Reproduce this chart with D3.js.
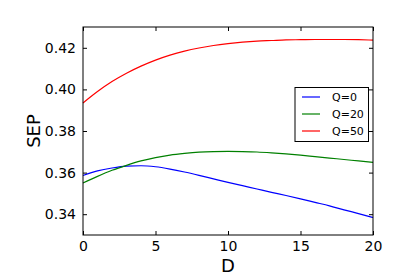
<!DOCTYPE html>
<html>
<head>
<meta charset="utf-8">
<script src="https://cdn.jsdelivr.net/npm/d3@7"></script>
<style>
  body { margin: 0; background: #fff; }
  svg text { font-family: "DejaVu Sans", sans-serif; fill: #000; }
</style>
</head>
<body>
<script>
var dValues = [0, 1, 2, 3, 4, 5, 6, 7, 8, 9, 10, 11, 12, 13, 14, 15, 16, 17, 18, 19, 20];

var sepQ0 = [0.3586, 0.3608, 0.3622, 0.3631, 0.3633, 0.3628, 0.3617, 0.3603, 0.3587, 0.3570,
  0.3553, 0.3537, 0.3521, 0.3505, 0.3490, 0.3474, 0.3457, 0.3440, 0.3421, 0.3403, 0.3384];
var sepQ20 = [0.3550, 0.3582, 0.3611, 0.3635, 0.3656, 0.3672, 0.3684, 0.3692, 0.3698, 0.3701,
  0.3702, 0.3701, 0.3699, 0.3695, 0.3690, 0.3684, 0.3677, 0.3670, 0.3663, 0.3656, 0.3649];
var sepQ50 = [0.3935, 0.3990, 0.4038, 0.4078, 0.4112, 0.4141, 0.4165, 0.4184, 0.4199, 0.4211,
  0.4220, 0.4227, 0.4232, 0.4235, 0.4238, 0.4239, 0.4240, 0.4240, 0.4240, 0.4239, 0.4237];

var seriesNames = ['Q=0', 'Q=20', 'Q=50'];
var seriesColors = ['#0000ff', '#008000', '#ff0000'];

var xTicks = [0, 5, 10, 15, 20];
var yTicks = [0.34, 0.36, 0.38, 0.40, 0.42];

var width = 415, height = 277;
var margin = { top: 27, right: 42, bottom: 42, left: 83 };

var svg = d3.select('body').append('svg')
    .attr('width', width)
    .attr('height', height);

var x = d3.scaleLinear().domain([0, 20]).range([margin.left, width - margin.right]);
var y = d3.scaleLinear().domain([0.33, 0.43]).range([height - margin.bottom, margin.top]);

var series = [sepQ0, sepQ20, sepQ50].map(function(vals, i) {
  return {
    name: seriesNames[i],
    color: seriesColors[i],
    points: vals.map(function(v, j) { return [dValues[j], v]; })
  };
});

var line = d3.line()
    .x(function(d) { return x(d[0]); })
    .y(function(d) { return y(d[1]); })
    .curve(d3.curveMonotoneX);

svg.append('g').selectAll('path')
    .data(series)
    .enter()
    .append('path')
    .attr('d', function(d) { return line(d.points); })
    .attr('fill', 'none')
    .attr('stroke', function(d) { return d.color; })
    .attr('stroke-width', 1.2);

// axes: ticks point inward, on all four sides
var tickLen = 4;
var fmt = d3.format('.2f');

svg.append('g')
    .attr('transform', 'translate(0,' + (height - margin.bottom) + ')')
    .call(d3.axisBottom(x).tickValues(xTicks).tickSizeInner(-tickLen).tickSizeOuter(0).tickPadding(6))
    .call(function(g) { g.select('.domain').remove(); })
    .selectAll('text').attr('font-size', 14).attr('dy', '0.71em');

svg.append('g')
    .attr('transform', 'translate(0,' + margin.top + ')')
    .call(d3.axisTop(x).tickValues(xTicks).tickSizeInner(-tickLen).tickSizeOuter(0).tickFormat(''))
    .call(function(g) { g.select('.domain').remove(); });

svg.append('g')
    .attr('transform', 'translate(' + margin.left + ',0)')
    .call(d3.axisLeft(y).tickValues(yTicks).tickFormat(fmt).tickSizeInner(-tickLen).tickSizeOuter(0).tickPadding(7))
    .call(function(g) { g.select('.domain').remove(); })
    .selectAll('text').attr('font-size', 14);

svg.append('g')
    .attr('transform', 'translate(' + (width - margin.right) + ',0)')
    .call(d3.axisRight(y).tickValues(yTicks).tickSizeInner(-tickLen).tickSizeOuter(0).tickFormat(''))
    .call(function(g) { g.select('.domain').remove(); });

svg.selectAll('.tick line').attr('stroke', '#000');
svg.selectAll('g').attr('font-family', null);

// frame
svg.append('rect')
    .attr('x', x(0))
    .attr('y', y(0.43))
    .attr('width', x(20) - x(0))
    .attr('height', y(0.33) - y(0.43))
    .attr('fill', 'none')
    .attr('stroke', '#000')
    .attr('stroke-width', 1);

// axis labels
svg.append('text')
    .attr('x', (x(0) + x(20)) / 2)
    .attr('y', 272)
    .attr('text-anchor', 'middle')
    .attr('font-size', 18)
    .text('D');

svg.append('text')
    .attr('transform', 'translate(40,' + ((y(0.33) + y(0.43)) / 2) + ') rotate(-90)')
    .attr('text-anchor', 'middle')
    .attr('font-size', 18)
    .text('SEP');

// legend
var legend = svg.append('g').attr('transform', 'translate(295,87.5)');
legend.append('rect')
    .attr('width', 73.5)
    .attr('height', 54)
    .attr('fill', '#fff')
    .attr('stroke', '#000')
    .attr('stroke-width', 1);

var items = legend.selectAll('g.item')
    .data(series)
    .enter()
    .append('g')
    .attr('class', 'item')
    .attr('transform', function(d, i) { return 'translate(0,' + (9.5 + i * 17) + ')'; });

items.append('line')
    .attr('x1', 7).attr('x2', 25)
    .attr('stroke', function(d) { return d.color; })
    .attr('stroke-width', 1.2);

items.append('text')
    .attr('x', 37)
    .attr('dy', '0.36em')
    .attr('font-size', 11)
    .text(function(d) { return d.name; });
</script>
</body>
</html>
